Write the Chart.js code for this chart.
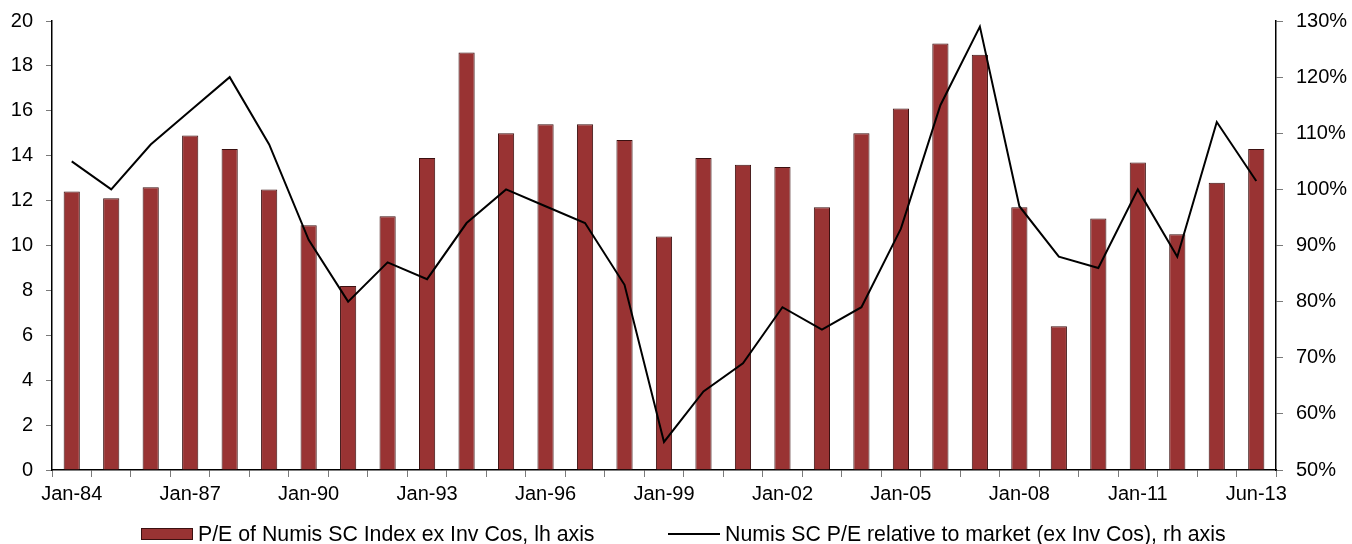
<!DOCTYPE html>
<html>
<head>
<meta charset="utf-8">
<title>Numis SC P/E</title>
<script src="https://cdn.jsdelivr.net/npm/chart.js@4.4.1/dist/chart.umd.min.js"></script>
<style>
  html, body { margin: 0; padding: 0; background: #fff; }
  #wrap { position: relative; width: 1352px; height: 544px; }
  #chart { position: absolute; left: 0; top: 0; }
  .legend-item {
    position: absolute; top: 523px; height: 22px;
    display: flex; align-items: center;
    font-family: "Liberation Sans", Arial, Helvetica, sans-serif;
    font-size: 21.3px; color: #000; white-space: nowrap;
  }
  .legend-item .swatch { flex: 0 0 auto; margin-right: 5px; box-sizing: border-box; }
</style>
</head>
<body>
<div id="wrap">
  <canvas id="chart" width="1352" height="544"></canvas>
</div>
<script>
// Year-end snapshots from Jan-84 to Jan-13, plus the latest reading (Jun-13)
const categories = [
  'Jan-84', 'Jan-85', 'Jan-86', 'Jan-87', 'Jan-88', 'Jan-89', 'Jan-90', 'Jan-91',
  'Jan-92', 'Jan-93', 'Jan-94', 'Jan-95', 'Jan-96', 'Jan-97', 'Jan-98', 'Jan-99',
  'Jan-00', 'Jan-01', 'Jan-02', 'Jan-03', 'Jan-04', 'Jan-05', 'Jan-06', 'Jan-07',
  'Jan-08', 'Jan-09', 'Jan-10', 'Jan-11', 'Jan-12', 'Jan-13', 'Jun-13'
];

// P/E of Numis SC Index ex Inv Cos (left axis)
const peValues = [
  12.4, 12.1, 12.6, 14.9, 14.3, 12.5, 10.9, 8.2,
  11.3, 13.9, 18.6, 15.0, 15.4, 15.4, 14.7, 10.4,
  13.9, 13.6, 13.5, 11.7, 15.0, 16.1, 19.0, 18.5,
  11.7, 6.4, 11.2, 13.7, 10.5, 12.8, 14.3
];

// Numis SC P/E relative to market, % (right axis)
const relativeValues = [
  105, 100, 108, 114, 120, 108, 91, 80,
  87, 84, 94, 100, 97, 94, 83, 55,
  64, 69, 79, 75, 79, 93, 115, 129,
  97, 88, 86, 100, 88, 112, 101.5
];

const seriesNames = [
  'P/E of Numis SC Index ex Inv Cos, lh axis',
  'Numis SC P/E relative to market (ex Inv Cos), rh axis'
];

// Axis ranges and tick steps
const leftAxis = { min: 0, max: 20, step: 2 };
const rightAxis = { min: 50, max: 130, step: 10 };
const labelEvery = 3;

const FONT = '"Liberation Sans", Arial, Helvetica, sans-serif';
const BAR_FILL = '#993333';
const BAR_EDGE = '#3b1010';
const TICK_MARK = '#7a7a7a';

// Fixed axis widths; labels may overhang the plot top/bottom freely
const fixAxis = (width) => (scale) => {
  scale.width = width;
  scale.paddingTop = 0;
  scale.paddingBottom = 0;
};

const chart = new Chart(document.getElementById('chart'), {
  data: {
    labels: categories,
    datasets: [
      {
        type: 'bar',
        label: seriesNames[0],
        data: peValues,
        yAxisID: 'y',
        backgroundColor: BAR_FILL,
        borderColor: BAR_EDGE,
        borderWidth: 1,
        barPercentage: 0.41,
        categoryPercentage: 1.0,
        order: 1
      },
      {
        type: 'line',
        label: seriesNames[1],
        data: relativeValues,
        yAxisID: 'y1',
        borderColor: '#000',
        backgroundColor: '#000',
        borderWidth: 2,
        pointRadius: 0,
        tension: 0,
        fill: false,
        order: 0
      }
    ]
  },
  options: {
    responsive: false,
    devicePixelRatio: 1,
    animation: false,
    layout: { autoPadding: false, padding: { left: 0, right: 0, top: 21, bottom: 33 } },
    plugins: {
      legend: { display: false },
      tooltip: { enabled: false }
    },
    scales: {
      x: {
        type: 'category',
        offset: true,
        grid: {
          offset: true,
          drawOnChartArea: false,
          drawTicks: true,
          tickLength: 7,
          color: TICK_MARK
        },
        border: { display: true, color: '#000', width: 1.5 },
        ticks: {
          autoSkip: false,
          maxRotation: 0,
          minRotation: 0,
          padding: 5,
          color: '#000',
          font: { family: FONT, size: 20 },
          callback: function (value, index) {
            return index % labelEvery === 0 ? this.getLabelForValue(value) : '';
          }
        }
      },
      y: {
        position: 'left',
        min: leftAxis.min,
        max: leftAxis.max,
        afterFit: fixAxis(52),
        grid: { drawOnChartArea: false, tickLength: 6, color: TICK_MARK },
        border: { display: true, color: '#000', width: 1.5 },
        ticks: {
          stepSize: leftAxis.step,
          padding: 13,
          color: '#000',
          font: { family: FONT, size: 20 }
        }
      },
      y1: {
        position: 'right',
        min: rightAxis.min,
        max: rightAxis.max,
        afterFit: fixAxis(76),
        grid: { drawOnChartArea: false, tickLength: 7, color: TICK_MARK },
        border: { display: true, color: '#000', width: 1.5 },
        ticks: {
          stepSize: rightAxis.step,
          padding: 13,
          color: '#000',
          font: { family: FONT, size: 20 },
          callback: (v) => v + '%'
        }
      }
    }
  }
});

// Legend along the bottom, built from the chart's datasets
const legendLefts = [141, 668];
const wrap = document.getElementById('wrap');
chart.data.datasets.forEach((ds, i) => {
  const item = document.createElement('div');
  item.className = 'legend-item';
  item.style.left = legendLefts[i] + 'px';
  const sw = document.createElement('span');
  sw.className = 'swatch';
  if (ds.type === 'bar') {
    sw.style.width = '52px';
    sw.style.height = '12px';
    sw.style.background = ds.backgroundColor;
    sw.style.border = '1px solid ' + ds.borderColor;
  } else {
    sw.style.width = '52px';
    sw.style.height = '2px';
    sw.style.background = ds.borderColor;
  }
  const txt = document.createElement('span');
  txt.textContent = ds.label;
  item.appendChild(sw);
  item.appendChild(txt);
  wrap.appendChild(item);
});
</script>
</body>
</html>
